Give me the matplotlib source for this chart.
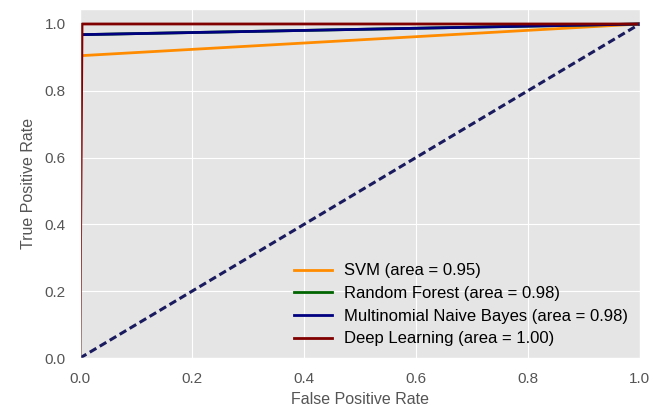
import matplotlib.pyplot as plt

plt.style.use('ggplot')
plt.rcParams['font.family'] = ['Liberation Sans', 'DejaVu Sans']

# ROC points
svm_fpr = [0.0, 0.0, 1.0]
svm_tpr = [0.0, 0.905, 1.0]
rf_fpr = [0.0, 0.0, 1.0]
rf_tpr = [0.0, 0.968, 1.0]
mnb_fpr = [0.0, 0.0, 1.0]
mnb_tpr = [0.0, 0.968, 1.0]
dl_fpr = [0.0, 0.004, 1.0]
dl_tpr = [0.0, 1.0, 1.0]

labels = ['SVM (area = 0.95)', 'Random Forest (area = 0.98)',
          'Multinomial Naive Bayes (area = 0.98)', 'Deep Learning (area = 1.00)']

fig = plt.figure(figsize=(6.65, 4.07), dpi=100)
ax = fig.add_axes([0.12, 0.12, 0.842, 0.858])
ax.plot(svm_fpr, svm_tpr, color='darkorange', lw=2, label=labels[0])
ax.plot(rf_fpr, rf_tpr, color='darkgreen', lw=2, label=labels[1])
ax.plot(mnb_fpr, mnb_tpr, color='navy', lw=2, label=labels[2])
ax.plot(dl_fpr, dl_tpr, color='maroon', lw=2, label=labels[3])
ax.plot([0, 1], [0, 1], color='#1a1a5e', lw=2.2, linestyle='--', dashes=(2.5, 1.3))
ax.set_xlim(0.0, 1.0)
ax.set_ylim(0.0, 1.045)
ax.set_xlabel('False Positive Rate', fontsize=11.5, color='#555555', labelpad=4)
ax.set_ylabel('True Positive Rate', fontsize=11.5, color='#555555', labelpad=6)
ax.tick_params(length=0, labelsize=11, colors='#555555', pad=10)
ax.legend(loc='lower right', frameon=False, fontsize=12, handlelength=2.3,
          handletextpad=0.7, labelspacing=0.46, borderaxespad=0.3)
fig.savefig('out.png')
